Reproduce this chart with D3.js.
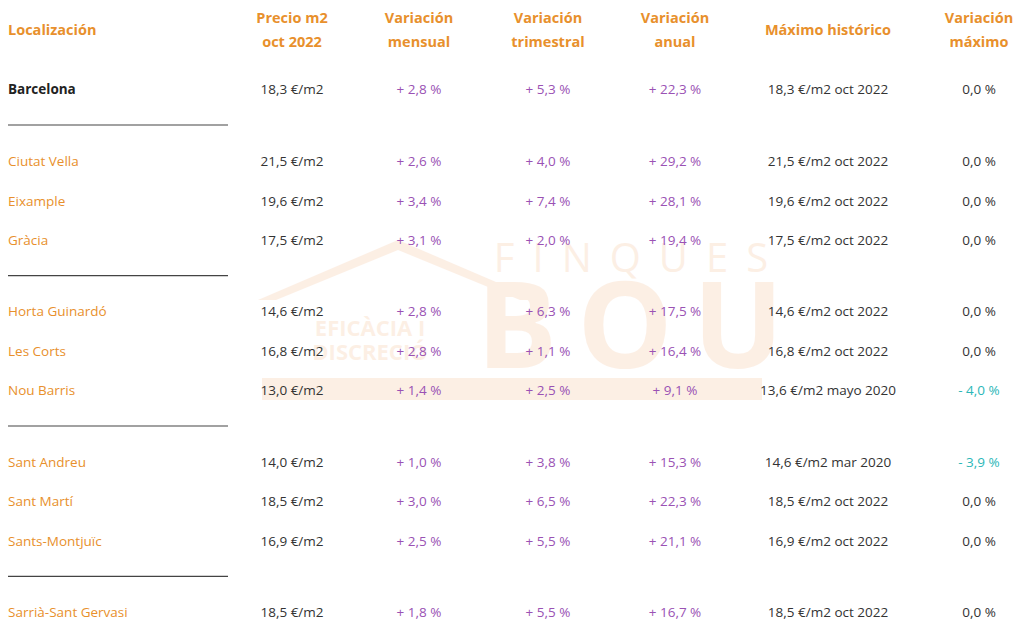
<!DOCTYPE html>
<html><head><meta charset="utf-8">
<script src="https://cdn.jsdelivr.net/npm/d3@7"></script>
<style>body{margin:0;background:#fff}svg{display:block}</style>
</head><body><svg width="1024" height="641"></svg>
<script>
const headers = [["Localización"],["Precio m2","oct 2022"],["Variación","mensual"],["Variación","trimestral"],["Variación","anual"],["Máximo histórico"],["Variación","máximo"]];
const locations = ["Barcelona","Ciutat Vella","Eixample","Gràcia","Horta Guinardó","Les Corts","Nou Barris","Sant Andreu","Sant Martí","Sants-Montjuïc","Sarrià-Sant Gervasi"];
const groups = [0,1,1,1,2,2,2,3,3,3,4];
const precio = ["18,3","21,5","19,6","17,5","14,6","16,8","13,0","14,0","18,5","16,9","18,5"];
const mensual = ["2,8","2,6","3,4","3,1","2,8","2,8","1,4","1,0","3,0","2,5","1,8"];
const trimestral = ["5,3","4,0","7,4","2,0","6,3","1,1","2,5","3,8","6,5","5,5","5,5"];
const anual = ["22,3","29,2","28,1","19,4","17,5","16,4","9,1","15,3","22,3","21,1","16,7"];
const maximo = ["18,3 €/m2 oct 2022","21,5 €/m2 oct 2022","19,6 €/m2 oct 2022","17,5 €/m2 oct 2022","14,6 €/m2 oct 2022","16,8 €/m2 oct 2022","13,6 €/m2 mayo 2020","14,6 €/m2 mar 2020","18,5 €/m2 oct 2022","16,9 €/m2 oct 2022","18,5 €/m2 oct 2022"];
const varMax = ["0,0","0,0","0,0","0,0","0,0","0,0","- 4,0","- 3,9","0,0","0,0","0,0"];

const svg = d3.select("svg");
const F = "'Open Sans', sans-serif";
const orange = "#e8902c", purple = "#9a52b4", teal = "#2bb7b8", dark = "#333";
const colX = d3.scaleOrdinal().domain(d3.range(7)).range([8,292,419,548,675,828,979]);
const slot = locations.map((d,i)=>{const g=groups[i];const first=groups.indexOf(g);return {g,k:i-first};});
const yG = d3.scaleLinear().domain([1,4]).range([161,612]);
const yRow = i => {const s=slot[i]; return s.g===0?89:yG(s.g)+s.k*39.5;};

// watermark
const wm = svg.append("g").attr("opacity",0.16).attr("fill","#f0a060");
wm.append("path").attr("d","M258,300 L398,240 L538,300 L520,300 L398,250 L276,300 Z");
wm.append("rect").attr("x",262).attr("y",378).attr("width",500).attr("height",22);
wm.append("text").attr("x",640).attr("y",272).attr("text-anchor","middle").attr("font-family",F).attr("font-size",40).attr("letter-spacing",18).text("FINQUES");
wm.append("text").attr("x",640).attr("y",368).attr("text-anchor","middle").attr("font-family",F).attr("font-weight",700).attr("font-size",120).attr("letter-spacing",20).text("BOU");
wm.append("text").attr("x",370).attr("y",336).attr("text-anchor","middle").attr("font-family",F).attr("font-weight",700).attr("font-size",22).text("EFICÀCIA I");
wm.append("text").attr("x",370).attr("y",360).attr("text-anchor","middle").attr("font-family",F).attr("font-weight",700).attr("font-size",22).text("DISCRECIÓ");

headers.forEach((h,c)=>{
  const t = svg.append("text").attr("x",colX(c)).attr("text-anchor",c===0?"start":"middle")
    .attr("font-family",F).attr("font-weight",700).attr("font-size",14.5).attr("fill",orange);
  if(h.length===1) t.attr("y",35).text(h[0]);
  else h.forEach((l,j)=>t.append("tspan").attr("x",colX(c)).attr("y",23+j*24).text(l));
});

const seps = d3.range(1,5).map(g=>(yRow(groups.lastIndexOf(g-1))+yRow(groups.indexOf(g)))/2);
svg.selectAll("line.sep").data(seps).join("line").attr("x1",8).attr("x2",228)
  .attr("y1",d=>d).attr("y2",d=>d).attr("stroke","#444").attr("stroke-width",1.2);

const rows = svg.selectAll("g.row").data(locations).join("g").attr("transform",(d,i)=>`translate(0,${yRow(i)+5})`)
  .attr("font-family",F).attr("font-size",13.5);
rows.append("text").attr("x",colX(0)).attr("fill",(d,i)=>i===0?"#222":orange).attr("font-weight",(d,i)=>i===0?700:400).text(d=>d);
const cell=(c,f,col)=>rows.append("text").attr("x",colX(c)).attr("text-anchor","middle").attr("fill",col).text(f);
cell(1,(d,i)=>precio[i]+" €/m2",dark);
cell(2,(d,i)=>"+ "+mensual[i]+" %",purple);
cell(3,(d,i)=>"+ "+trimestral[i]+" %",purple);
cell(4,(d,i)=>"+ "+anual[i]+" %",purple);
cell(5,(d,i)=>maximo[i],dark);
cell(6,(d,i)=>varMax[i]+" %",dark).attr("fill",(d,i)=>varMax[i].startsWith("-")?teal:dark);
</script></body></html>
